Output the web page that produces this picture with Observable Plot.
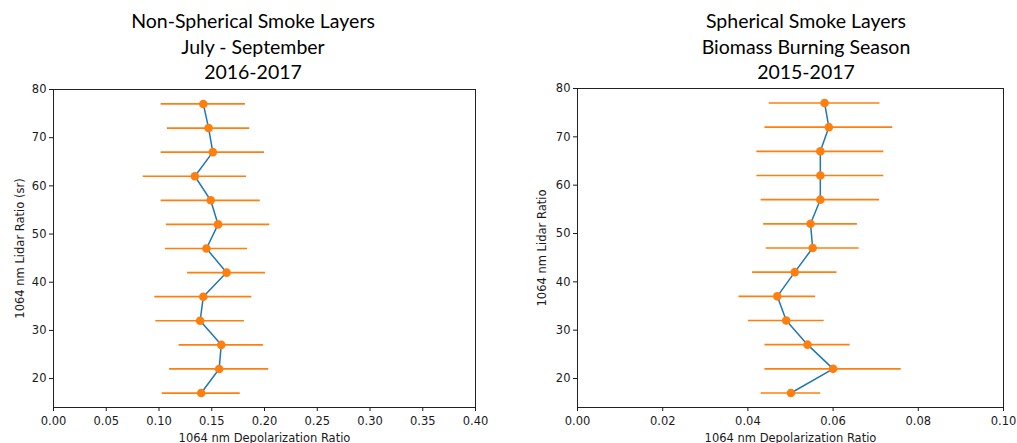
<!DOCTYPE html>
<html>
<head>
<meta charset="utf-8">
<script src="https://cdn.jsdelivr.net/npm/d3@7"></script>
<script src="https://cdn.jsdelivr.net/npm/@observablehq/plot@0.6"></script>
<style>
  html, body { margin: 0; padding: 0; background: #fff; }
  #wrap { position: relative; width: 1017px; height: 443px; overflow: hidden; background: #fff; }
  .panel { position: absolute; top: 0; }
  .title { position: absolute; top: 8px; width: 400px; text-align: center; font-family: Lato, "Open Sans", sans-serif; font-size: 19.5px; line-height: 25.5px; color: #000; white-space: pre-line; }
</style>
</head>
<body>
<div id="wrap">
  <div class="title" id="t1" style="left:53px"></div>
  <div class="title" id="t2" style="left:606px"></div>
  <div class="panel" id="p1" style="left:0px"></div>
  <div class="panel" id="p2" style="left:508px"></div>
</div>
<script>
// ---- data ----
const heights = [17, 22, 27, 32, 37, 42, 47, 52, 57, 62, 67, 72, 77];

// Non-spherical smoke layers (July - September, 2016-2017)
const nsDepol = [0.140, 0.157, 0.159, 0.139, 0.142, 0.164, 0.145, 0.156, 0.149, 0.134, 0.151, 0.147, 0.142];
const nsErr   = [0.037, 0.047, 0.040, 0.042, 0.046, 0.037, 0.039, 0.049, 0.047, 0.049, 0.049, 0.039, 0.040];

// Spherical smoke layers (Biomass burning season, 2015-2017)
const sDepol = [0.0501, 0.0600, 0.0540, 0.0490, 0.0469, 0.0510, 0.0552, 0.0547, 0.0570, 0.0570, 0.0570, 0.0590, 0.0580];
const sErr   = [0.0070, 0.0160, 0.0100, 0.0089, 0.0090, 0.0099, 0.0109, 0.0110, 0.0139, 0.0149, 0.0149, 0.0150, 0.0130];

const leftXTicks  = [0.00, 0.05, 0.10, 0.15, 0.20, 0.25, 0.30, 0.35, 0.40];
const rightXTicks = [0.00, 0.02, 0.04, 0.06, 0.08, 0.10];
const yTicks = [20, 30, 40, 50, 60, 70, 80];

const titles = [
  "Non-Spherical Smoke Layers\nJuly - September\n2016-2017",
  "Spherical Smoke Layers\nBiomass Burning Season\n2015-2017"
];
const xLabel = "1064 nm Depolarization Ratio";
const yLabels = ["1064 nm Lidar Ratio (sr)", "1064 nm Lidar Ratio"];

// ---- drawing ----
function panel(vals, errs, xDomain, xTicks, yLabel, opts) {
  const data = heights.map((h, i) => ({h, v: vals[i], e: errs[i]}));
  return Plot.plot({
    width: opts.width,
    height: 443,
    marginLeft: opts.ml,
    marginRight: opts.mr,
    marginTop: opts.mt,
    marginBottom: 36,
    style: {fontFamily: "DejaVu Sans, sans-serif", fontSize: "11.5px", color: "#1a1a1a", background: "transparent", overflow: "visible"},
    x: {domain: xDomain},
    y: {domain: [14, 80]},
    marks: [
      Plot.ruleY(data, {y: "h", x1: d => d.v - d.e, x2: d => d.v + d.e, stroke: "#ff7f0e", strokeWidth: 1.7}),
      Plot.line(data, {x: "v", y: "h", stroke: "#1f77b4", strokeWidth: 1.5}),
      Plot.dot(data, {x: "v", y: "h", r: 4.3, fill: "#ff7f0e", stroke: "none"}),
      Plot.frame({stroke: "#222", strokeWidth: 1}),
      Plot.axisX({ticks: xTicks, tickFormat: d3.format(".2f"), tickSize: 4, tickPadding: 5, fontSize: 11.5,
                  label: xLabel, labelAnchor: "center", labelArrow: "none", labelOffset: 34}),
      Plot.axisY({ticks: yTicks, tickSize: 4, tickPadding: 3, fontSize: 11.5,
                  label: yLabel, labelAnchor: "center", labelArrow: "none", labelOffset: opts.lo})
    ]
  });
}

document.getElementById("t1").textContent = titles[0];
document.getElementById("t2").textContent = titles[1];
document.getElementById("p1").appendChild(
  panel(nsDepol, nsErr, [0, 0.4], leftXTicks, yLabels[0], {width: 508, ml: 53, mr: 33, mt: 89, lo: 38}));
document.getElementById("p2").appendChild(
  panel(sDepol, sErr, [0, 0.1], rightXTicks, yLabels[1], {width: 509, ml: 69, mr: 14, mt: 88, lo: 40}));
</script>
</body>
</html>
